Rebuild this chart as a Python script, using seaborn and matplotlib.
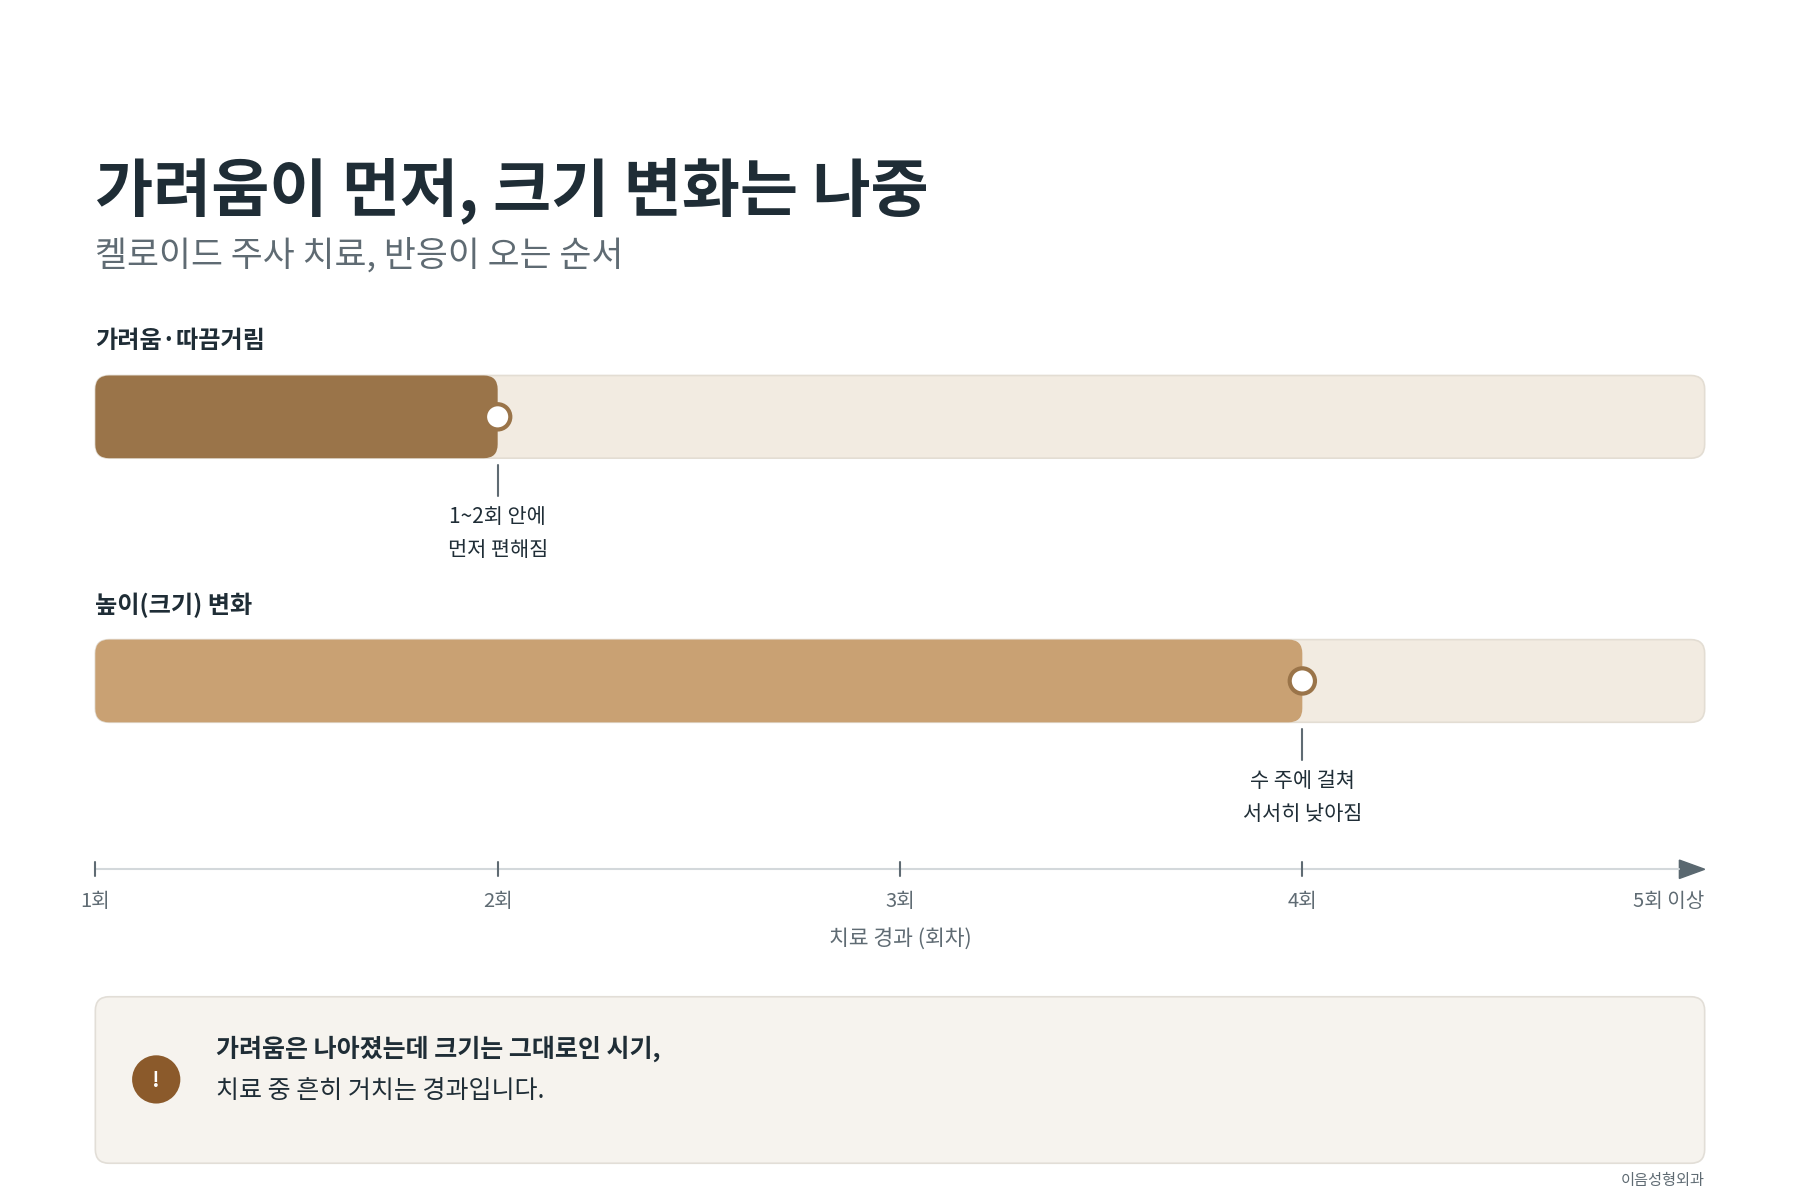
import matplotlib
matplotlib.use("Agg")
import matplotlib.pyplot as plt
import seaborn as sns
from matplotlib.patches import FancyBboxPatch, Ellipse

sns.set_theme(style="white")
plt.rcParams['font.family'] = ['Noto Sans CJK KR', 'DejaVu Sans']

title = "가려움이 먼저, 크기 변화는 나중"
subtitle = "켈로이드 주사 치료, 반응이 오는 순서"
series = ["가려움·따끔거림", "높이(크기) 변화"]
values = [2, 4]
notes = [["1~2회 안에", "먼저 편해짐"], ["수 주에 걸쳐", "서서히 낮아짐"]]
tick_pos = [1, 2, 3, 4, 5]
tick_labels = ["1회", "2회", "3회", "4회", "5회 이상"]
xlabel = "치료 경과 (회차)"
callout = ["가려움은 나아졌는데 크기는 그대로인 시기,", "치료 중 흔히 거치는 경과입니다."]
source = "이음성형외과"

fill_colors = ["#9A7449", "#C9A173"]
track_c, track_e = "#F2EBE1", "#E3DDD3"
dark, grey = "#1F2D36", "#5F6B73"

W, H = 1567, 1045
L, R = 83, 1484
upp = (max(tick_pos) - min(tick_pos)) / (R - L)
fig = plt.figure(figsize=(18, 12), dpi=100)
fig.patch.set_facecolor("white")
ax = fig.add_axes([0, 0, 1, 1])
ax.set_xlim(1 - L * upp, 5 + (W - R) * upp)
ax.set_ylim(H, 0)
ax.axis("off")
asp = 1 / upp
def px(x): return 1 + (x - L) * upp

ax.text(px(83), 166, title, fontsize=45.5, fontweight="heavy", color=dark, va="center")
ax.text(px(83), 223, subtitle, fontsize=25, color=grey, va="center")

rs = 12 * upp
for i, (name, v, nt) in enumerate(zip(series, values, notes)):
    yc = 363 + i * 230
    ax.text(px(83), yc - 66, name, fontsize=17.4, fontweight="bold", color=dark, va="center")
    ax.add_patch(FancyBboxPatch((1, yc - 36), 4, 72, boxstyle=f"round,pad=0,rounding_size={rs}",
                                mutation_aspect=asp, fc=track_c, ec=track_e, lw=1.2, zorder=1))
    ax.add_patch(FancyBboxPatch((1, yc - 36), v - 1, 72, boxstyle=f"round,pad=0,rounding_size={rs}",
                                mutation_aspect=asp, fc=fill_colors[i], ec="none", zorder=2))
    ax.add_patch(Ellipse((v, yc), 22 * upp, 22, fc="white", ec=fill_colors[0], lw=3, zorder=3))
    ax.plot([v, v], [yc + 42, yc + 69], color=grey, lw=1.5)
    ax.text(v, yc + 87, nt[0], fontsize=15, color=dark, ha="center", va="center")
    ax.text(v, yc + 116, nt[1], fontsize=15, color=dark, ha="center", va="center")

ay = 757
ax.plot([1, px(1462)], [ay, ay], color="#D3D8DB", lw=1.5)
ax.fill([px(1462), px(1484), px(1462)], [ay - 8, ay, ay + 8], color="#5A6870")
for t, lab in zip(tick_pos, tick_labels):
    if t < 5:
        ax.plot([t, t], [ay - 6, ay + 6], color=grey, lw=1.5)
    ax.text(t, 785, lab, fontsize=14.5, color=grey, ha="right" if t == 5 else "center", va="center")
ax.text(3, 818, xlabel, fontsize=15.5, color=grey, ha="center", va="center")

ax.add_patch(FancyBboxPatch((1, 868), 4, 145, boxstyle=f"round,pad=0,rounding_size={rs}",
                            mutation_aspect=asp, fc="#F6F3EE", ec="#E2DED7", lw=1.2))
ax.add_patch(Ellipse((px(136), 940), 42 * upp, 42, fc="#8B5A2B", ec="none"))
ax.text(px(136), 941, "!", fontsize=15, fontweight="bold", color="white", ha="center", va="center")
ax.text(px(188), 913, callout[0], fontsize=18, fontweight="bold", color=dark, va="center")
ax.text(px(188), 950, callout[1], fontsize=18, color=dark, va="center")
ax.text(px(1484), 1028, source, fontsize=11, color=grey, ha="right", va="center")

fig.savefig("out.png", dpi=100, facecolor="white")
